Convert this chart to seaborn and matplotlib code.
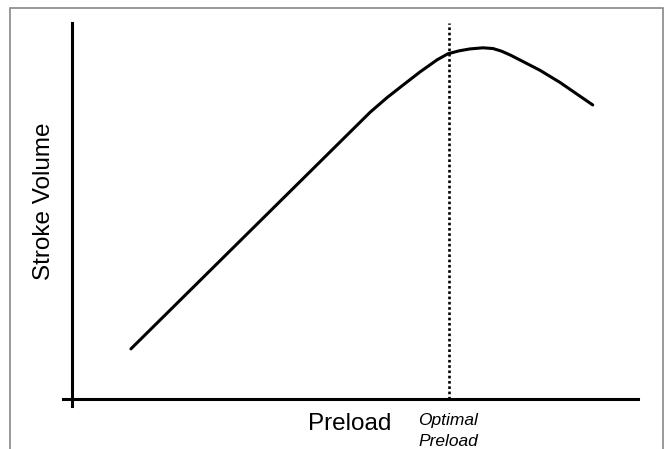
import seaborn as sns
import pandas as pd
import numpy as np
from matplotlib import pyplot as plt
from matplotlib.patches import Rectangle

# Frank-Starling style curve (arbitrary units 0-100)
preload = [10.4, 52.7, 55.7, 58.5, 61.5, 64.5, 66.4, 68.4, 70.3, 72.6, 74.4, 75.9,
           77.4, 80.0, 82.7, 86.2, 92.0]
stroke_volume = [13.3, 76.3, 80.2, 83.5, 87.0, 90.2, 91.8, 92.6, 93.1, 93.4, 93.2, 92.5,
                 91.5, 89.5, 87.4, 84.2, 78.2]
optimal_preload = 66.6

df = pd.DataFrame({"preload": preload, "stroke_volume": stroke_volume})

sns.set_style("white")
plt.rcParams['font.family'] = ['Liberation Sans', 'DejaVu Sans']

fig = plt.figure(figsize=(6.65, 4.49), dpi=100)
ax = fig.add_axes([63 / 665, 1 - 406 / 449, 575 / 665, 383 / 449])

sns.lineplot(data=df, x="preload", y="stroke_volume", color="black", lw=2.2,
             sort=False, ax=ax, solid_joinstyle="round", solid_capstyle="round")
ax.axvline(optimal_preload, ymin=1.9 / 101.9, ymax=1.0, color="black", lw=1.9,
           linestyle=(0, (1, 1)))

ax.set_xlim(-1.6, 100)
ax.set_ylim(-1.9, 100)
ax.spines['left'].set_position(('data', 0))
ax.spines['bottom'].set_position(('data', 0))
ax.spines['top'].set_visible(False)
ax.spines['right'].set_visible(False)
for s in ['left', 'bottom']:
    ax.spines[s].set_linewidth(2.2)
    ax.spines[s].set_color("black")
ax.set_xticks([])
ax.set_yticks([])
ax.set_xlabel("")
ax.set_ylabel("")

fig.text(44 / 665, 1 - 201 / 449, "Stroke Volume", rotation=90, fontsize=17.5,
         ha="center", va="center", color="black")
fig.text(350 / 665, 1 - 424 / 449, "Preload", fontsize=17.5, ha="center", va="center",
         color="black")
fig.text(448 / 665, 1 - 431 / 449, "Optimal\nPreload", fontsize=12.5, style="italic",
         ha="center", va="center", linespacing=1.45, color="black")

# thin grey frame around the picture
fig.patches.append(Rectangle((10 / 665, -0.1), 653 / 665, 1.1 - 8 / 449,
                             transform=fig.transFigure, fill=False,
                             edgecolor="#888888", lw=1.2))

fig.savefig("out.png", dpi=100)
